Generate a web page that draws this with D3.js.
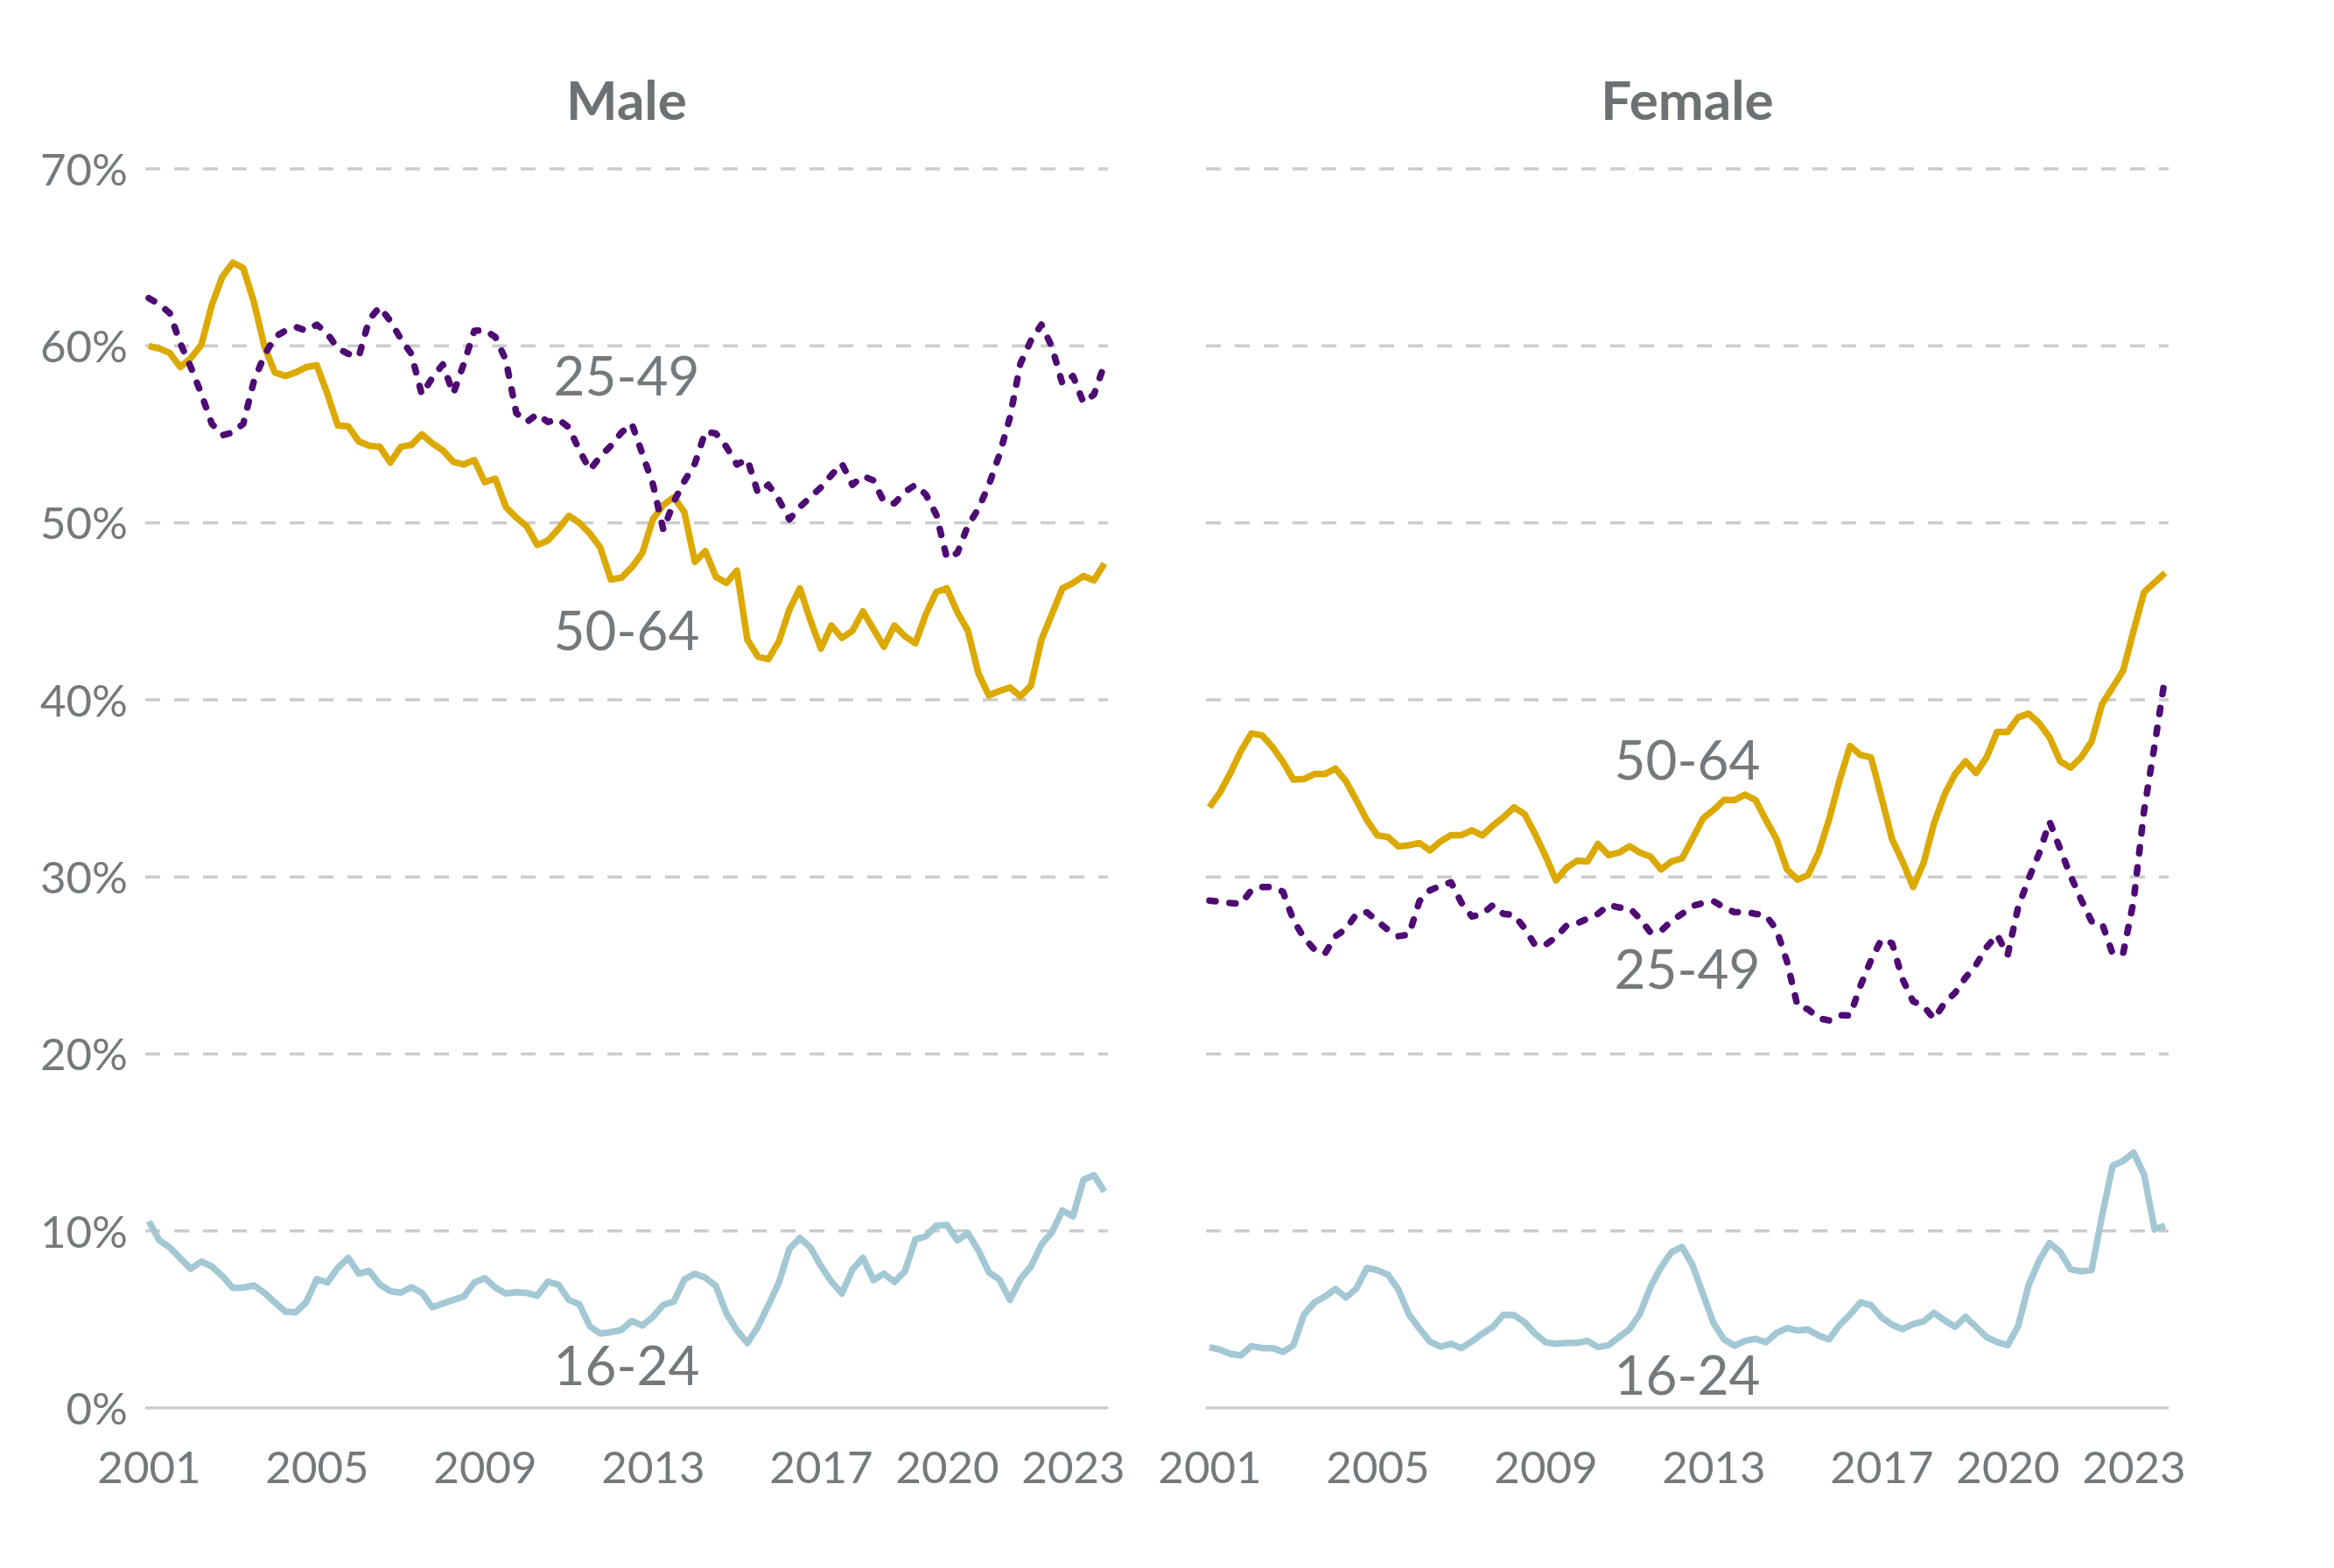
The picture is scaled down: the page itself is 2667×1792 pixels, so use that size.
<!DOCTYPE html>
<html>
<head>
<meta charset="utf-8">
<script src="https://cdn.jsdelivr.net/npm/d3@7"></script>
<style>
  html, body { margin: 0; padding: 0; background: #ffffff; }
  svg { display: block; }
</style>
</head>
<body>
<svg id="chart"></svg>
<script>
// quarterly, 2001 Q1 .. 2023 Q4
const quarters = d3.range(92).map(i => 2001 + i / 4);
const yearTicks = [2001, 2005, 2009, 2013, 2017, 2020, 2023];
const pctTicks = [0, 10, 20, 30, 40, 50, 60, 70];
const ageGroups = ['16-24', '50-64', '25-49'];

const male1624 = [10.54, 9.47, 9.06, 8.45, 7.86, 8.27, 7.99, 7.45, 6.79, 6.79, 6.92, 6.51, 5.96, 5.44, 5.40, 5.98,
    7.28, 7.08, 7.91, 8.47, 7.58, 7.74, 6.97, 6.59, 6.51, 6.82, 6.51, 5.68, 5.90, 6.10, 6.29, 7.08, 7.33, 6.80, 6.46,
    6.54, 6.49, 6.34, 7.13, 6.97, 6.10, 5.85, 4.61, 4.20, 4.28, 4.40, 4.91, 4.65, 5.14, 5.82, 6.01, 7.25, 7.58, 7.36,
    6.89, 5.35, 4.38, 3.66, 4.58, 5.80, 7.08, 8.98, 9.60, 9.06, 8.02, 7.13, 6.46, 7.81, 8.48, 7.22, 7.58, 7.12, 7.71,
    9.52, 9.69, 10.30, 10.33, 9.46, 9.88, 8.90, 7.66, 7.25, 6.10, 7.28, 7.99, 9.23, 9.92, 11.15, 10.82, 12.88, 13.15, 12.22];
const male2549 = [62.7, 62.35, 61.85, 60.15, 58.8, 57.3, 55.6, 54.95, 55.1, 55.6, 58.0, 59.45, 60.5, 60.85, 61.07, 60.85,
    61.2, 60.7, 59.85, 59.55, 59.4, 61.5, 62.2, 61.4, 60.4, 59.55, 57.25, 58.2, 58.95, 57.3, 59.0, 60.85, 60.9, 60.5,
    59.2, 56.2, 55.7, 56.15, 55.7, 55.85, 55.4, 54.1, 53.0, 53.75, 54.35, 55.1, 55.6, 53.9, 52.2, 49.6, 51.2, 52.35,
    53.35, 55.15, 55.05, 54.3, 53.3, 53.6, 51.7, 52.15, 51.3, 50.2, 50.9, 51.45, 52.0, 52.7, 53.35, 52.15, 52.65, 52.4,
    51.2, 51.1, 51.75, 52.15, 51.6, 50.45, 48.0, 48.3, 49.85, 50.8, 52.15, 53.85, 55.95, 59.0, 60.3, 61.2, 59.95, 57.85,
    58.3, 56.8, 57.25, 58.95];
const male5064 = [60.0, 59.85, 59.6, 58.8, 59.3, 60.05, 62.3, 63.9, 64.7, 64.4, 62.5, 60.0, 58.5, 58.3, 58.5, 58.8,
    58.9, 57.3, 55.5, 55.45, 54.6, 54.35, 54.3, 53.4, 54.3, 54.4, 55.0, 54.5, 54.1, 53.45, 53.3, 53.55, 52.3, 52.5,
    50.9, 50.3, 49.8, 48.75, 49.0, 49.65, 50.4, 50.0, 49.4, 48.6, 46.8, 46.9, 47.5, 48.3, 50.2, 51.0, 51.45, 50.6, 47.8,
    48.4, 46.95, 46.6, 47.3, 43.4, 42.45, 42.3, 43.3, 45.1, 46.3, 44.5, 42.9, 44.2, 43.5, 43.9, 45.0, 44.0, 43.0, 44.2,
    43.6, 43.2, 44.85, 46.1, 46.3, 44.95, 43.9, 41.5, 40.25, 40.5, 40.7, 40.2, 40.8, 43.4, 44.85, 46.3, 46.6, 47.0,
    46.75, 47.7];

const female1624 = [3.43, 3.29, 3.05, 2.97, 3.49, 3.38, 3.38, 3.16, 3.54, 5.27, 5.96, 6.29, 6.72, 6.23, 6.75, 7.91,
    7.78, 7.53, 6.67, 5.27, 4.48, 3.74, 3.46, 3.62, 3.38, 3.76, 4.2, 4.58, 5.27, 5.24, 4.84, 4.2, 3.71, 3.62, 3.67, 3.67,
    3.79, 3.43, 3.54, 3.99, 4.45, 5.32, 6.84, 7.94, 8.81, 9.09, 8.07, 6.42, 4.78, 3.87, 3.51, 3.79, 3.90, 3.71, 4.23,
    4.51, 4.37, 4.42, 4.09, 3.87, 4.68, 5.27, 5.96, 5.8, 5.11, 4.7, 4.45, 4.73, 4.89, 5.37, 4.94, 4.58, 5.14, 4.58, 4.0,
    3.71, 3.54, 4.61, 6.92, 8.32, 9.31, 8.81, 7.83, 7.71, 7.78, 10.87, 13.67, 13.95, 14.42, 13.18, 10.08, 10.3];
const female2549 = [28.66, 28.59, 28.52, 28.48, 29.25, 29.43, 29.43, 29.16, 27.55, 26.56, 25.9, 25.66, 26.65, 27.06,
    27.91, 28.0, 27.49, 27.01, 26.65, 26.74, 28.63, 29.24, 29.49, 29.7, 28.54, 27.76, 27.91, 28.41, 27.91, 27.85, 27.1,
    26.15, 26.15, 26.6, 27.24, 27.37, 27.64, 27.91, 28.41, 28.27, 28.23, 27.64, 26.86, 26.95, 27.51, 27.91, 28.36, 28.52,
    28.63, 28.27, 28.0, 28.03, 27.91, 27.82, 27.01, 25.21, 22.7, 22.52, 22.01, 21.89, 22.19, 22.16, 23.86, 25.3, 26.47,
    26.25, 24.22, 22.97, 22.7, 21.98, 22.88, 23.45, 24.31, 25.03, 26.02, 26.74, 25.57, 28.27, 29.88, 31.32, 33.12,
    31.59, 30.06, 28.72, 27.49, 27.37, 25.66, 25.66, 28.63, 33.75, 37.43, 41.29];
const female5064 = [33.93, 34.77, 35.87, 37.12, 38.11, 38.0, 37.34, 36.5, 35.49, 35.53, 35.81, 35.81, 36.12, 35.4,
    34.32, 33.2, 32.34, 32.25, 31.72, 31.79, 31.91, 31.5, 32.0, 32.36, 32.36, 32.63, 32.34, 32.9, 33.37, 33.93, 33.55,
    32.43, 31.18, 29.8, 30.51, 30.91, 30.87, 31.86, 31.23, 31.37, 31.73, 31.37, 31.14, 30.42, 30.87, 31.05, 32.16, 33.3,
    33.78, 34.34, 34.34, 34.65, 34.34, 33.2, 32.13, 30.42, 29.85, 30.1, 31.36, 33.24, 35.45, 37.39, 36.89, 36.75, 34.47,
    32.13, 30.87, 29.43, 30.78, 33.03, 34.65, 35.81, 36.53, 35.87, 36.75, 38.19, 38.19, 39.01, 39.23, 38.69, 37.88,
    36.53, 36.17, 36.75, 37.65, 39.77, 40.7, 41.65, 43.9, 46.09, 46.63, 47.17];

// where each group's name sits (value at the text baseline), in ageGroups order
const maleLabelAt = [1.3, 42.8, 57.2];
const femaleLabelAt = [0.75, 35.5, 23.7];

const W = 2667, H = 1792;
const FONT = "Futura, 'Century Gothic', Lato, sans-serif";
const textGrey = '#74797c';
const colors = { '16-24': '#a3c8d4', '25-49': '#4e0b74', '50-64': '#dba900' };

const svg = d3.select('#chart').attr('width', W).attr('height', H);

const y = d3.scaleLinear().domain([0, 70]).range([1609, 193]);

const panels = [
    { title: 'Male', left: 166, right: 1266, x0: 170, x1: 1262, showY: true,
      series: [male1624, male5064, male2549], labels: maleLabelAt },
    { title: 'Female', left: 1378, right: 2478, x0: 1382, x1: 2474, showY: false,
      series: [female1624, female5064, female2549], labels: femaleLabelAt }
];

panels.forEach(p => {
    const x = d3.scaleLinear().domain([2001, 2023.75]).range([p.x0, p.x1]);
    const g = svg.append('g');

    // dashed grid, solid baseline
    g.selectAll('.grid')
        .data(pctTicks)
        .join('line')
        .attr('x1', p.left)
        .attr('x2', p.right)
        .attr('y1', d => y(d))
        .attr('y2', d => y(d))
        .attr('stroke', '#cccccc')
        .attr('stroke-width', 3.5)
        .attr('stroke-dasharray', d => d === 0 ? null : '17,16');

    if (p.showY) {
        const yAxis = d3.axisLeft(y).tickValues(pctTicks).tickFormat(d => d + '%').tickSize(0).tickPadding(0);
        const ya = g.append('g').attr('transform', 'translate(146,0)').call(yAxis);
        ya.select('.domain').remove();
        ya.selectAll('text')
            .attr('fill', textGrey)
            .attr('dy', '0.36em')
            .style('font-family', FONT)
            .style('font-size', '51px')
            .style('font-weight', 400);
    }

    const xAxis = d3.axisBottom(x).tickValues(yearTicks).tickFormat(d3.format('d')).tickSize(0).tickPadding(0);
    const xa = g.append('g').attr('transform', 'translate(0,1695)').call(xAxis);
    xa.select('.domain').remove();
    xa.selectAll('text')
        .attr('fill', textGrey)
        .attr('y', 0)
        .attr('dy', 0)
        .style('font-family', FONT)
        .style('font-size', '51px')
        .style('font-weight', 400);

    g.append('text')
        .attr('x', (p.left + p.right) / 2)
        .attr('y', 137)
        .attr('text-anchor', 'middle')
        .attr('fill', '#6c7174')
        .style('font-family', FONT)
        .style('font-size', '62px')
        .style('font-weight', 700)
        .text(p.title);

    const line = d3.line()
        .x((d, i) => x(quarters[i]))
        .y(d => y(d));

    ageGroups.forEach((grp, k) => {
        const dotted = grp === '25-49';
        g.append('path')
            .datum(p.series[k])
            .attr('fill', 'none')
            .attr('stroke', colors[grp])
            .attr('stroke-width', 7.5)
            .attr('stroke-linejoin', 'round')
            .attr('stroke-linecap', dotted ? 'round' : 'butt')
            .attr('stroke-dasharray', dotted ? '7,16' : null)
            .attr('d', line);

        g.append('text')
            .attr('x', (p.left + p.right) / 2)
            .attr('y', y(p.labels[k]))
            .attr('text-anchor', 'middle')
            .attr('fill', textGrey)
            .style('font-family', FONT)
            .style('font-size', '62px')
            .style('font-weight', 400)
            .text(grp);
    });
});
</script>
</body>
</html>
